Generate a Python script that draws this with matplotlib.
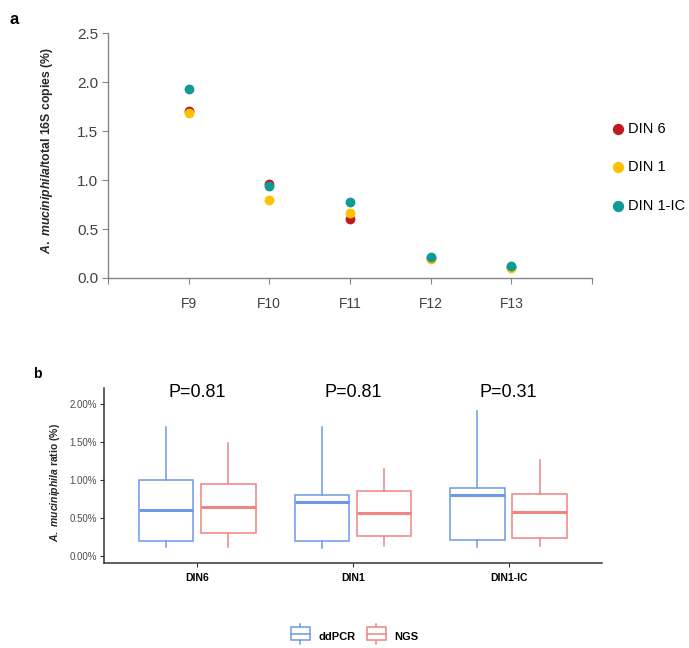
import numpy as np
import matplotlib.pyplot as plt
from matplotlib.legend_handler import HandlerBase
from matplotlib.patches import Rectangle
from matplotlib.lines import Line2D

plt.rcParams['font.family'] = ['Liberation Sans', 'DejaVu Sans']
plt.rcParams['mathtext.fontset'] = 'custom'
plt.rcParams['mathtext.it'] = 'Liberation Sans:italic:bold'
plt.rcParams['mathtext.rm'] = 'Liberation Sans:bold'

# panel a: ratio per fraction
fractions = ['F9', 'F10', 'F11', 'F12', 'F13']
din6 = [1.70, 0.96, 0.60, 0.20, 0.11]
din1 = [1.68, 0.80, 0.66, 0.19, 0.10]
din1_ic = [1.93, 0.94, 0.78, 0.21, 0.12]

# panel b: box summaries (percent)
groups = ['DIN6', 'DIN1', 'DIN1-IC']
p_values = ['P=0.81', 'P=0.81', 'P=0.31']
ddpcr_lo = [0.12, 0.11, 0.12]
ddpcr_q1 = [0.20, 0.20, 0.21]
ddpcr_med = [0.60, 0.71, 0.80]
ddpcr_q3 = [1.00, 0.81, 0.90]
ddpcr_hi = [1.70, 1.70, 1.91]
ngs_lo = [0.12, 0.13, 0.13]
ngs_q1 = [0.31, 0.26, 0.24]
ngs_med = [0.64, 0.57, 0.58]
ngs_q3 = [0.95, 0.855, 0.82]
ngs_hi = [1.49, 1.15, 1.26]

fig = plt.figure(figsize=(6.89, 6.48), dpi=100)

# ---- panel a ----
ax = fig.add_axes([0.1567, 0.571, 0.7025, 0.378])
x = np.arange(1, len(fractions) + 1)
series = [('DIN 6', din6, '#C0191F'), ('DIN 1', din1, '#FFC000'),
          ('DIN 1-IC', din1_ic, '#0F9A94')]
for name, vals, col in series:
    ax.scatter(x, vals, s=50, color=col, label=name, zorder=3, linewidths=0)
ax.set_xlim(0, len(fractions) + 1)
ax.set_ylim(0, 2.5)
ax.set_yticks([0, 0.5, 1.0, 1.5, 2.0, 2.5])
ax.set_yticklabels(['0.0', '0.5', '1.0', '1.5', '2.0', '2.5'])
ax.set_xticks(np.arange(0, len(fractions) + 2))
ax.set_xticklabels([''] + fractions + [''])
for s in ['top', 'right']:
    ax.spines[s].set_visible(False)
for s in ['left', 'bottom']:
    ax.spines[s].set_color('#868686')
    ax.spines[s].set_linewidth(1.0)
ax.tick_params(axis='y', labelsize=11, colors='#868686', labelcolor='#404040', length=4, pad=3)
ax.tick_params(axis='x', labelsize=10, colors='#868686', labelcolor='#404040', length=4, pad=10)
fig.text(0.068, 0.768, r'$\it{A.\ muciniphila}$/total 16S copies (%)',
         rotation=90, ha='center', va='center', fontsize=8.8, fontweight='bold', color='#262626')
ax.legend(loc='center left', bbox_to_anchor=(1.012, 0.452), frameon=False, fontsize=10.5,
          handletextpad=0.15, labelspacing=1.68, markerscale=1.15, handlelength=1.0)
fig.text(0.014, 0.982, 'a', fontsize=12, fontweight='bold', va='top')

# ---- panel b ----
bx = fig.add_axes([0.1509, 0.1312, 0.7228, 0.27])
pos = np.arange(1, len(groups) + 1)
blue = '#6E98E8'
red = '#EE8484'
for lo, q1, med, q3, hi, off, col in [
        (ddpcr_lo, ddpcr_q1, ddpcr_med, ddpcr_q3, ddpcr_hi, -0.2, blue),
        (ngs_lo, ngs_q1, ngs_med, ngs_q3, ngs_hi, 0.2, red)]:
    stats = [dict(whislo=a, q1=b, med=c, q3=d, whishi=e, fliers=[])
             for a, b, c, d, e in zip(lo, q1, med, q3, hi)]
    bx.bxp(stats, positions=pos + off, widths=0.35, showcaps=False, patch_artist=True,
           boxprops=dict(facecolor='white', edgecolor=col, linewidth=1.1),
           whiskerprops=dict(color=col, linewidth=1.1),
           medianprops=dict(color=col, linewidth=2.2))
for p, label in zip(pos, p_values):
    bx.text(p, 2.04, label, ha='center', va='bottom', fontsize=13)
bx.set_xlim(0.4, len(groups) + 0.6)
bx.set_ylim(-0.09, 2.21)
bx.set_xticks(pos)
bx.set_xticklabels(groups, fontweight='bold', fontsize=7.5)
bx.set_yticks([0, 0.5, 1.0, 1.5, 2.0])
bx.set_yticklabels(['0.00%', '0.50%', '1.00%', '1.50%', '2.00%'])
for s in ['top', 'right']:
    bx.spines[s].set_visible(False)
for s in ['left', 'bottom']:
    bx.spines[s].set_color('#333333')
    bx.spines[s].set_linewidth(1.1)
bx.tick_params(axis='y', labelsize=7, labelcolor='#4D4D4D', color='#333333', length=3, pad=2)
bx.tick_params(axis='x', labelsize=7.5, color='#333333', length=3, pad=4)
fig.text(0.08, 0.255, r'$\it{A.\ muciniphila}$ ratio (%)', rotation=90,
         ha='center', va='center', fontsize=7.5, fontweight='bold', color='#262626')
fig.text(0.048, 0.433, 'b', fontsize=10, fontweight='bold', va='top')


class BoxHandler(HandlerBase):
    def create_artists(self, legend, orig, xd, yd, w, h, fs, trans):
        col = orig.get_color()
        r = Rectangle((xd, yd - 0.15 * h), w, 1.3 * h, facecolor='white',
                      edgecolor=col, linewidth=1.1, transform=trans)
        m = Line2D([xd, xd + w], [yd + 0.5 * h] * 2, color=col, lw=1.1, transform=trans)
        t = Line2D([xd + 0.5 * w] * 2, [yd + 1.15 * h, yd + 1.5 * h], color=col, lw=1.1, transform=trans)
        b = Line2D([xd + 0.5 * w] * 2, [yd - 0.15 * h, yd - 0.5 * h], color=col, lw=1.1, transform=trans)
        return [t, b, r, m]


handles = [Line2D([], [], color=blue), Line2D([], [], color=red)]
fig.legend(handles, ['ddPCR', 'NGS'], handler_map={Line2D: BoxHandler()}, loc='center',
           bbox_to_anchor=(0.515, 0.018), ncol=2, frameon=False,
           prop=dict(weight='bold', size=8), handlelength=1.7, handleheight=1.0,
           columnspacing=1.0, handletextpad=0.8)

fig.savefig('out.png', dpi=100)
